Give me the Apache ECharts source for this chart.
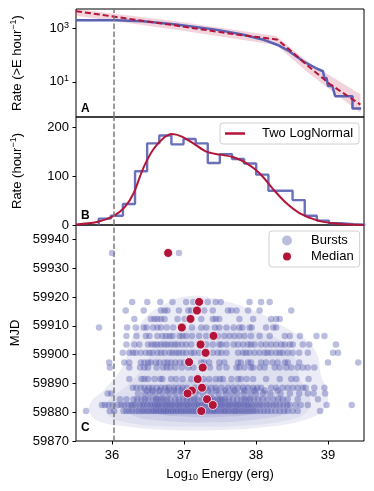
<!DOCTYPE html>
<html>
<head>
<meta charset="utf-8">
<script src="https://cdn.jsdelivr.net/npm/echarts@6/dist/echarts.min.js"></script>
<style>
html, body { margin: 0; padding: 0; background: #fff; }
#chart { width: 374px; height: 491px; }
</style>
</head>
<body>
<div id="chart"></div>
<script>
// shared energy axis
var energyRange = [35.5, 39.5];
var completenessLimit = 36.02;
var xTicks = [36, 37, 38, 39];

// A: cumulative burst rate above energy, with broken power-law model
var cumEnergy = [35.5, 36.06, 36.43, 36.89, 37.44, 37.81, 38.09, 38.32, 38.46, 38.65, 38.83, 38.93, 38.95, 38.98, 39.0, 39.06, 39.1, 39.34, 39.34, 39.46];
var cumRate = [2050, 2050, 1860, 1410, 910, 600, 390, 230, 141, 60, 33, 25, 14, 14, 7, 7, 2.9, 2.9, 1.0, 1.0];
var modelEnergy = [35.5, 36.89, 37.72, 38.2, 38.3, 38.46, 38.74, 39.02, 39.45];
var modelRate = [4470, 1290, 600, 420, 380, 165, 36, 8.5, 1.4];
var bandEnergy = [35.5, 36.89, 38.28, 38.74, 39.45];
var bandLow = [3020, 890, 240, 20, 0.69];
var bandHigh = [6600, 1860, 520, 52, 3.4];
var rateTicks = [10, 1000];

// B: differential rate histogram and two-lognormal fit
var binEdges = [35.815, 35.983, 36.152, 36.32, 36.488, 36.657, 36.825, 36.993, 37.162, 37.33, 37.498, 37.667, 37.835, 38.003, 38.172, 38.34, 38.508, 38.677, 38.845, 39.013, 39.182, 39.35, 39.518];
var binRate = [13, 19, 43, 110, 167, 183, 165, 176, 167, 127, 145, 135, 126, 103, 70, 70, 51, 19, 9, 3.5, 1.5, 0.5];
var fitEnergy = [35.5, 35.79, 36.02, 36.18, 36.3, 36.43, 36.57, 36.71, 36.83, 36.97, 37.13, 37.31, 37.5, 37.68, 37.87, 38.05, 38.24, 38.42, 38.61, 38.84, 39.07, 39.3, 39.5];
var fitRate = [1.0, 6, 18, 37, 65, 115, 154, 177, 186, 181, 167, 150, 144, 139, 126, 106, 73, 45, 24, 10, 3.4, 0.8, 0.2];
var histTicks = [0, 100, 200];

// C: burst energies per observing day
var burstMJD = [59935.3, 59918.3, 59915.3, 59912.4, 59909.4, 59906.5, 59903.5, 59900.6, 59897.3, 59895.5, 59891.5, 59888.5, 59887.5, 59886.5, 59884.5, 59882.5, 59880.4];
var burstEnergy = [
  [36.0, 36.93],
  [36.28, 36.49, 36.67, 36.84, 37.03, 37.13, 37.33, 37.44, 37.51, 37.91, 38.07, 38.19],
  [36.19, 36.44, 36.68, 36.73, 36.77, 36.93, 37.06, 37.1, 37.28, 37.4, 37.61, 37.66, 37.73, 37.89, 38.05, 38.49],
  [36.31, 36.54, 36.59, 36.63, 36.68, 36.73, 36.91, 37.01, 37.24, 37.4, 37.44, 37.49, 37.77, 37.96, 38.21, 38.28, 38.33],
  [35.82, 36.21, 36.33, 36.44, 36.48, 36.57, 36.63, 36.68, 36.76, 36.85, 37.11, 37.24, 37.31, 37.43, 37.49, 37.59, 37.69, 37.77, 37.81, 37.91, 37.94, 38.14, 38.24, 38.28],
  [36.2, 36.34, 36.47, 36.52, 36.63, 36.7, 36.75, 36.8, 36.84, 36.94, 36.98, 37.03, 37.11, 37.21, 37.31, 37.47, 37.56, 37.63, 37.7, 37.77, 37.84, 37.93, 38.05, 38.19, 38.4, 38.47, 38.61, 38.84, 38.95],
  [36.2, 36.31, 36.38, 36.5, 36.55, 36.59, 36.63, 36.68, 36.73, 36.77, 36.82, 36.87, 36.91, 36.97, 37.03, 37.1, 37.31, 37.4, 37.49, 37.52, 37.59, 37.69, 37.75, 37.82, 37.89, 37.93, 37.98, 38.07, 38.14, 38.21, 38.28, 38.35, 38.4, 38.47, 38.51, 38.65, 38.74, 39.11],
  [36.15, 36.24, 36.29, 36.33, 36.4, 36.47, 36.52, 36.56, 36.63, 36.68, 36.73, 36.8, 36.84, 36.89, 36.93, 36.98, 37.03, 37.1, 37.14, 37.21, 37.4, 37.47, 37.52, 37.59, 37.75, 37.82, 37.86, 37.91, 37.98, 38.05, 38.12, 38.16, 38.21, 38.28, 38.33, 38.37, 38.44, 38.51, 38.6, 38.72, 39.07, 39.14],
  [35.96, 36.17, 36.24, 36.4, 36.45, 36.5, 36.54, 36.61, 36.66, 36.73, 36.77, 36.82, 36.88, 36.94, 37.0, 37.24, 37.28, 37.35, 37.49, 37.56, 37.75, 37.79, 37.89, 37.93, 38.07, 38.14, 38.23, 38.3, 38.4, 38.44, 38.6, 39.0, 39.42],
  [35.97, 36.24, 36.39, 36.45, 36.5, 36.62, 36.71, 36.76, 36.81, 36.88, 36.97, 37.06, 37.13, 37.36, 37.49, 37.59, 37.73, 37.77, 37.84, 37.93, 37.96, 38.05, 38.12, 38.26, 38.33, 38.42, 38.49, 38.58, 38.65, 38.72, 38.81],
  [36.24, 36.41, 36.45, 36.5, 36.59, 36.67, 36.7, 36.82, 36.89, 36.98, 37.1, 37.27, 37.35, 37.44, 37.5, 37.54, 37.66, 37.75, 37.79, 37.87, 37.96, 38.14, 38.33, 38.49, 38.56, 38.73],
  [36.29, 36.34, 36.4, 36.45, 36.51, 36.56, 36.62, 36.68, 36.74, 36.79, 36.86, 36.92, 36.98, 37.04, 37.15, 37.31, 37.38, 37.44, 37.52, 37.61, 37.68, 37.75, 37.82, 37.89, 37.96, 38.02, 38.07, 38.21, 38.28, 38.37, 38.44, 38.51, 38.58, 38.65, 38.69, 38.81, 38.95],
  [36.48, 36.56, 36.66, 36.77, 36.86, 36.96, 37.2, 37.33, 37.45, 37.57, 37.7, 37.84, 37.98, 38.12, 38.3],
  [35.94, 35.99, 36.36, 36.45, 36.53, 36.61, 36.7, 36.79, 36.88, 36.97, 37.16, 37.26, 37.38, 37.48, 37.58, 37.66, 37.74, 37.83, 37.92, 38.0, 38.1, 38.2, 38.34, 38.47, 38.6, 38.72, 38.8, 38.96],
  [36.11, 36.2, 36.3, 36.35, 36.41, 36.46, 36.5, 36.57, 36.61, 36.64, 36.68, 36.72, 36.76, 36.81, 36.88, 36.93, 36.99, 37.04, 37.09, 37.14, 37.18, 37.26, 37.37, 37.41, 37.46, 37.5, 37.53, 37.57, 37.62, 37.68, 37.74, 37.8, 37.84, 37.88, 37.92, 37.97, 38.03, 38.09, 38.16, 38.24, 38.31, 38.37, 38.44, 38.58, 38.86],
  [35.86, 35.9, 35.95, 36.01, 36.08, 36.13, 36.17, 36.22, 36.26, 36.29, 36.33, 36.38, 36.42, 36.45, 36.49, 36.53, 36.56, 36.6, 36.63, 36.66, 36.7, 36.74, 36.77, 36.81, 36.84, 36.88, 36.92, 36.95, 36.99, 37.03, 37.06, 37.1, 37.14, 37.18, 37.21, 37.25, 37.29, 37.33, 37.37, 37.46, 37.5, 37.53, 37.57, 37.61, 37.64, 37.68, 37.72, 37.75, 37.79, 37.83, 37.87, 37.9, 37.94, 37.98, 38.02, 38.06, 38.1, 38.15, 38.19, 38.24, 38.28, 38.33, 38.38, 38.43, 38.47, 38.55, 38.62, 38.72, 38.98, 39.33],
  [35.64, 35.97, 36.03, 36.16, 36.2, 36.24, 36.28, 36.33, 36.37, 36.41, 36.44, 36.48, 36.51, 36.55, 36.58, 36.61, 36.65, 36.68, 36.72, 36.75, 36.78, 36.82, 36.85, 36.89, 36.92, 36.96, 36.99, 37.03, 37.06, 37.1, 37.13, 37.17, 37.2, 37.28, 37.32, 37.36, 37.4, 37.43, 37.47, 37.51, 37.55, 37.58, 37.62, 37.66, 37.7, 37.73, 37.77, 37.81, 37.85, 37.89, 37.93, 37.97, 38.01, 38.06, 38.11, 38.16, 38.21, 38.27, 38.33, 38.39, 38.44, 38.51, 38.58, 38.89]
];
var medianEnergy = [36.78, 37.21, 37.18, 37.09, 36.97, 37.41, 37.23, 37.3, 37.07, 37.26, 37.19, 37.25, 37.11, 37.05, 37.32, 37.4, 37.24];
var medianMJD = [59935.3, 59918.3, 59915.3, 59912.4, 59909.4, 59906.5, 59903.5, 59900.6, 59897.4, 59895.5, 59891.5, 59888.5, 59887.5, 59886.5, 59884.5, 59882.5, 59880.4];
var mjdTicks = [59870, 59880, 59890, 59900, 59910, 59920, 59930, 59940];

// density contours behind the bursts, outermost first
var kdeLevels = [
  [[35.68, 59880.5], [35.8, 59877], [36.2, 59875], [36.8, 59873.8], [37.5, 59873.8], [38.2, 59875], [38.7, 59877.5], [38.95, 59881], [39.0, 59886], [38.9, 59893], [38.85, 59900], [38.7, 59905], [38.4, 59909.5], [38.0, 59915], [37.5, 59919], [37.05, 59920.3], [36.65, 59916.5], [36.4, 59911], [36.25, 59904], [36.15, 59896], [35.9, 59888], [35.72, 59884]],
  [[35.95, 59879], [36.3, 59876], [37.0, 59875], [37.8, 59875.3], [38.4, 59877], [38.7, 59880], [38.75, 59885], [38.6, 59892], [38.55, 59898], [38.4, 59904], [38.0, 59908], [37.4, 59910], [36.9, 59908], [36.6, 59903], [36.45, 59896], [36.2, 59889], [35.95, 59884]],
  [[36.25, 59879.5], [36.7, 59877], [37.4, 59876.5], [38.0, 59877.5], [38.45, 59880], [38.45, 59884], [38.1, 59888], [37.6, 59891], [37.0, 59891], [36.6, 59888], [36.3, 59884]],
  [[36.6, 59879.8], [37.0, 59878.5], [37.6, 59878.5], [38.0, 59880], [37.9, 59883], [37.4, 59885], [36.9, 59884.5], [36.6, 59882.5]]
];
var kdeColors = ['#ececf6', '#dedfef', '#cecfe8', '#bdbee0'];

var font = 'Liberation Sans, Arial, sans-serif';
var blue = '#5a60b2';
var red = '#b3153a';
var ink = '#000';

var cumData = cumEnergy.map(function (e, i) { return [e, cumRate[i]]; });
var modelData = modelEnergy.map(function (e, i) { return [e, modelRate[i]]; });
var fitData = fitEnergy.map(function (e, i) { return [e, fitRate[i]]; });

var histData = [[binEdges[0], 0]];
binRate.forEach(function (v, i) {
  histData.push([binEdges[i], v]);
  histData.push([binEdges[i + 1], v]);
});
histData.push([binEdges[binEdges.length - 1], 0]);

var burstData = [];
burstMJD.forEach(function (mjd, r) {
  burstEnergy[r].forEach(function (e) { burstData.push([e, mjd]); });
});
var medianData = medianEnergy.map(function (e, i) { return [e, medianMJD[i]]; });

var supRich = {
  sup: { fontSize: 9, fontFamily: font, color: ink, padding: [0, 0, 7, 0] }
};

function vline() {
  return {
    silent: true, symbol: ['none', 'none'], label: { show: false },
    lineStyle: { color: '#7a7a7a', width: 1.5, type: [5.5, 2.5] },
    data: [{ xAxis: completenessLimit }]
  };
}

function xAxisFor(i, withLabels) {
  var ax = {
    type: 'value', gridIndex: i, min: energyRange[0], max: energyRange[1],
    splitLine: { show: false },
    axisLine: { show: false, onZero: false },
    axisTick: { show: false },
    axisLabel: { show: false }
  };
  if (withLabels) {
    ax.axisTick = { show: true, length: 3.5, customValues: xTicks, lineStyle: { color: ink, width: 1 } };
    ax.axisLabel = { show: true, customValues: xTicks, color: ink, fontSize: 13, fontFamily: font, margin: 8 };
    ax.name = 'Log{sub|10} Energy (erg)';
    ax.nameLocation = 'middle';
    ax.nameGap = 25;
    ax.nameTextStyle = {
      color: ink, fontSize: 13, fontFamily: font,
      rich: { sub: { fontSize: 9, fontFamily: font, color: ink, padding: [7, 0, 0, 0] } }
    };
  }
  return ax;
}

function yAxisBase(i, name) {
  return {
    gridIndex: i,
    splitLine: { show: false },
    axisLine: { show: false, onZero: false },
    axisTick: { show: true, length: 3.5, lineStyle: { color: ink, width: 1 } },
    axisLabel: { color: ink, fontSize: 13, fontFamily: font, margin: 7 },
    name: name, nameLocation: 'middle', nameGap: 51,
    nameTextStyle: { color: ink, fontSize: 13, fontFamily: font, rich: supRich }
  };
}

var yA = yAxisBase(0, 'Rate (>E hour{sup|\u22121})');
yA.type = 'log';
yA.logBase = 10;
yA.min = 0.48;
yA.max = 5400;
yA.axisTick.customValues = rateTicks;
yA.axisLabel.customValues = rateTicks;
yA.axisLabel.rich = supRich;
yA.axisLabel.formatter = function (v) {
  var p = Math.round(Math.log10(v));
  if (rateTicks.indexOf(Math.pow(10, p)) < 0 || Math.abs(v - Math.pow(10, p)) > 1e-6 * v) return '';
  return '10{sup|' + p + '}';
};

var yB = yAxisBase(1, 'Rate (hour{sup|\u22121})');
yB.type = 'value';
yB.min = 0;
yB.max = 221;
yB.interval = 100;
yB.axisTick.customValues = histTicks;
yB.axisLabel.customValues = histTicks;

var yC = yAxisBase(2, 'MJD');
yC.type = 'value';
yC.min = 59870;
yC.max = 59945;
yC.interval = 10;
yC.axisTick.customValues = mjdTicks;
yC.axisLabel.customValues = mjdTicks;
yC.axisLabel.formatter = function (v) { return String(Math.round(v)); };

var gridStyle = { show: true, borderColor: ink, borderWidth: 1, backgroundColor: 'transparent' };
var grids = [
  { left: 76, top: 9, width: 288, height: 108 },
  { left: 76, top: 117, width: 288, height: 108 },
  { left: 76, top: 225, width: 288, height: 216 }
].map(function (g) { return Object.assign(g, gridStyle); });

var chart = echarts.init(document.getElementById('chart'), null, { renderer: 'canvas' });

var option = {
  animation: false,
  backgroundColor: '#fff',
  textStyle: { fontFamily: font },
  grid: grids,
  xAxis: [xAxisFor(0, false), xAxisFor(1, false), xAxisFor(2, true)],
  yAxis: [yA, yB, yC],
  legend: [
    {
      data: [{ name: 'Two LogNormal', icon: 'rect' }], left: 220, top: 123,
      padding: [4, 6, 4, 5], itemWidth: 20, itemHeight: 2.5,
      borderColor: '#d0d0d0', borderWidth: 1, borderRadius: 3,
      backgroundColor: 'rgba(255,255,255,0.85)',
      textStyle: { color: ink, fontSize: 13, fontFamily: font, padding: [0, 0, 0, 12] }
    },
    {
      data: ['Bursts', 'Median'], left: 269, top: 231, orient: 'vertical',
      padding: [3, 6, 4, 12], itemWidth: 10, itemHeight: 10, itemGap: 3, icon: 'circle',
      borderColor: '#d0d0d0', borderWidth: 1, borderRadius: 3,
      backgroundColor: 'rgba(255,255,255,0.85)',
      textStyle: { color: ink, fontSize: 13, fontFamily: font, padding: [0, 0, 0, 14] }
    }
  ],
  graphic: [
    { type: 'text', left: 81, top: 103, style: { text: 'A', font: 'bold 12px ' + font, fill: ink } },
    { type: 'text', left: 81, top: 210, style: { text: 'B', font: 'bold 12px ' + font, fill: ink } },
    { type: 'text', left: 81, top: 422, style: { text: 'C', font: 'bold 12px ' + font, fill: ink } }
  ],
  series: [
    {
      type: 'custom', xAxisIndex: 0, yAxisIndex: 0, silent: true, clip: true, z: 1,
      data: [[bandEnergy[0], bandLow[0]]],
      renderItem: function (params, api) {
        var pts = [];
        var i;
        for (i = 0; i < bandEnergy.length; i++) pts.push(api.coord([bandEnergy[i], bandHigh[i]]));
        for (i = bandEnergy.length - 1; i >= 0; i--) pts.push(api.coord([bandEnergy[i], bandLow[i]]));
        return {
          type: 'polygon',
          shape: { points: echarts.graphic.clipPointsByRect(pts, params.coordSys) },
          style: { fill: 'rgba(200,60,95,0.22)' }
        };
      }
    },
    {
      type: 'line', xAxisIndex: 0, yAxisIndex: 0, data: cumData, symbol: 'none', z: 3,
      lineStyle: { color: blue, width: 2.5 }, markLine: vline()
    },
    {
      type: 'line', xAxisIndex: 0, yAxisIndex: 0, data: modelData, symbol: 'none', z: 4,
      lineStyle: { color: red, width: 2, type: [6, 3] }
    },
    {
      type: 'line', xAxisIndex: 1, yAxisIndex: 1, data: histData, symbol: 'none', z: 3,
      lineStyle: { color: blue, width: 2.4, opacity: 0.9 }, markLine: vline()
    },
    {
      name: 'Two LogNormal', type: 'line', xAxisIndex: 1, yAxisIndex: 1, data: fitData,
      symbol: 'none', smooth: 0.3, z: 4, color: red,
      lineStyle: { color: red, width: 2 }
    },
    {
      type: 'custom', xAxisIndex: 2, yAxisIndex: 2, silent: true, clip: true, z: 1,
      data: kdeLevels.map(function (ring, i) { return [ring[0][0], ring[0][1], i]; }),
      renderItem: function (params, api) {
        var level = api.value(2);
        var pts = kdeLevels[level].map(function (p) { return api.coord(p); });
        return {
          type: 'polygon',
          shape: { points: pts, smooth: 0.4 },
          style: { fill: kdeColors[level] }
        };
      }
    },
    {
      name: 'Bursts', type: 'scatter', xAxisIndex: 2, yAxisIndex: 2, data: burstData,
      symbolSize: 6.5, z: 3, color: '#4a4fa8',
      itemStyle: { color: '#4a4fa8', opacity: 0.37 }, markLine: vline()
    },
    {
      name: 'Median', type: 'scatter', xAxisIndex: 2, yAxisIndex: 2, data: medianData,
      symbolSize: 9, z: 5, color: red,
      itemStyle: { color: red, opacity: 1, borderColor: '#fff', borderWidth: 0.8 }
    }
  ]
};

chart.setOption(option);
</script>
</body>
</html>
